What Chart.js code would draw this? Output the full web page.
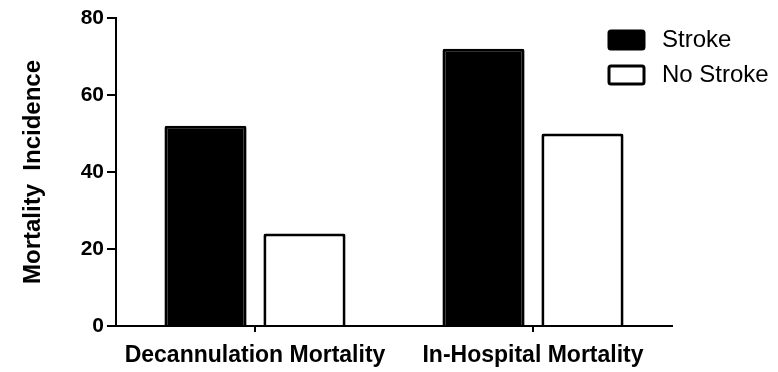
<!DOCTYPE html>
<html>
<head>
<meta charset="utf-8">
<script src="https://cdn.jsdelivr.net/npm/chart.js@4"></script>
<style>
        html, body { margin: 0; padding: 0; background: #fff; }
        #wrap { width: 778px; height: 372px; }
</style>
</head>
<body>
<div id="wrap"><canvas id="myChart" width="778" height="372"></canvas></div>
<script>
const categories = ['Decannulation Mortality', 'In-Hospital Mortality'];
const seriesNames = ['Stroke', 'No Stroke'];
const stroke = [52, 72];
const noStroke = [24, 50];
const yTicks = [0, 20, 40, 60, 80];

const fontFamily = '"Liberation Sans", Arial, Helvetica, sans-serif';

// legend drawn by hand, the library legend can't sit over the plot like this
const boxLegend = {
        id: 'boxLegend',
        afterDraw(chart) {
                const ctx = chart.ctx;
                ctx.save();
                chart.data.datasets.forEach((ds, i) => {
                        const y = 31 + i * 35;
                        ctx.fillStyle = ds.backgroundColor;
                        ctx.strokeStyle = '#000';
                        ctx.lineWidth = 3;
                        ctx.beginPath();
                        ctx.roundRect(609, y, 35, 18, 2);
                        ctx.fill();
                        ctx.stroke();
                        ctx.fillStyle = '#000';
                        ctx.font = '24px ' + fontFamily;
                        ctx.textBaseline = 'middle';
                        ctx.textAlign = 'left';
                        ctx.fillText(ds.label, 662, y + 9);
                });
                ctx.restore();
        }
};

const data = {
        labels: categories,
        datasets: [{
                label: seriesNames[0],
                data: stroke,
                backgroundColor: '#000',
                borderColor: '#000',
                borderWidth: 3,
                borderRadius: 2
        }, {
                label: seriesNames[1],
                data: noStroke,
                backgroundColor: '#fff',
                borderColor: '#000',
                borderWidth: 3,
                borderRadius: 2
        }]
};

const config = {
        type: 'bar',
        data: data,
        options: {
                responsive: false,
                animation: false,
                categoryPercentage: 0.712,
                barPercentage: 0.83,
                layout: { padding: { left: 0, right: 106, top: 18, bottom: 0 } },
                plugins: {
                        legend: { display: false },
                        tooltip: { enabled: false }
                },
                scales: {
                        x: {
                                afterFit(scale) { scale.height = 46; },
                                border: { display: true, color: '#000', width: 2 },
                                grid: {
                                        offset: false,
                                        drawOnChartArea: false,
                                        drawTicks: true,
                                        tickLength: 6,
                                        color: '#000',
                                        lineWidth: 2
                                },
                                ticks: {
                                        color: '#000',
                                        padding: 10,
                                        maxRotation: 0,
                                        font: { family: fontFamily, size: 23, weight: 'bold' }
                                }
                        },
                        y: {
                                min: 0,
                                max: 80,
                                afterFit(scale) { scale.width = 116; },
                                afterBuildTicks(scale) { scale.ticks = yTicks.map(v => ({ value: v })); },
                                border: { display: true, color: '#000', width: 2 },
                                grid: {
                                        drawOnChartArea: false,
                                        drawTicks: true,
                                        tickLength: 9,
                                        color: '#000',
                                        lineWidth: 2
                                },
                                ticks: {
                                        color: '#000',
                                        padding: 3,
                                        font: { family: fontFamily, size: 21, weight: 'bold' }
                                },
                                title: {
                                        display: true,
                                        text: 'Mortality  Incidence',
                                        color: '#000',
                                        padding: { top: 19, bottom: 0 },
                                        font: { family: fontFamily, size: 24, weight: 'bold' }
                                }
                        }
                }
        },
        plugins: [boxLegend]
};

const myChart = new Chart(document.getElementById('myChart'), config);
</script>
</body>
</html>
